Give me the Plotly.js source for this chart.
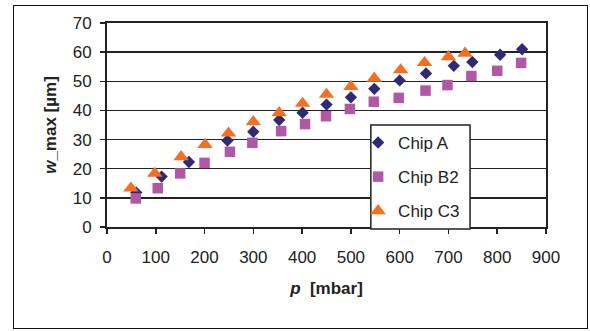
<!DOCTYPE html>
<html><head><meta charset="utf-8">
<script src="https://cdn.plot.ly/plotly-3.0.1.min.js"></script>
<style>body{margin:0;background:#fff}#frame{position:absolute;left:13px;top:5px;width:573px;height:322px;border:1.5px solid #111;pointer-events:none}</style>
</head><body>
<div id="chart" style="width:590px;height:331px"></div>
<div id="frame"></div>
<script>
const chipA_p = [60,112,168,247,300,353,401,450,500,548,600,654,711,749,806,851];
const chipA_w = [11.8,17.3,22.3,29.7,32.7,36.7,39.2,42.0,44.5,47.4,50.3,52.7,55.3,56.6,59.1,61.0];
const chipB2_p = [59,104,150,200,252,298,357,406,449,498,547,598,653,698,747,800,849];
const chipB2_w = [9.8,13.3,18.4,22.0,25.8,28.9,32.9,35.3,38.0,40.5,43.0,44.3,46.8,48.7,51.8,53.6,56.3];
const chipC3_p = [49,98,152,201,249,300,353,401,450,500,548,602,651,700,734];
const chipC3_w = [13.3,18.4,24.1,28.3,32.2,36.1,39.2,42.4,45.5,48.2,51.0,53.9,56.4,58.4,59.6];
const seriesNames = ['Chip A','Chip B2','Chip C3'];
const xTicks = [0,100,200,300,400,500,600,700,800,900];
const yTicks = [0,10,20,30,40,50,60,70];

const font = 'Liberation Sans, Arial, sans-serif';
const traces = [
  {x: chipA_p, y: chipA_w, name: seriesNames[0], legendgroup:'a', mode:'markers', type:'scatter',
   marker:{symbol:'diamond', size:9.5, color:'#2f2a72'}},
  {x: chipB2_p, y: chipB2_w, name: seriesNames[1], legendgroup:'b', mode:'markers', type:'scatter',
   marker:{symbol:'square', size:10.5, color:'#b058a6'}},
  {x: chipC3_p, y: chipC3_w, name: seriesNames[2], legendgroup:'c', mode:'markers', type:'scatter',
   marker:{symbol:'triangle-up', size:13.5, color:'#f36f21'}}
];
const layout = {
  width:590, height:331,
  margin:{l:107, r:44, t:23, b:104},
  paper_bgcolor:'#fff', plot_bgcolor:'#fff',
  font:{family:font, size:17, color:'#222'},
  showlegend:true,
  legend:{x:0.572, y:0.5, xanchor:'left', yanchor:'top', bgcolor:'rgba(0,0,0,0)', borderwidth:0,
          font:{family:font, size:17, color:'#222'}, tracegroupgap:9, traceorder:'grouped'},
  shapes:[{type:'rect', xref:'paper', yref:'paper', x0:0.601, x1:0.827, y0:-0.01, y1:0.5,
           line:{color:'#222', width:1.5}, fillcolor:'#fff', layer:'above'}],
  xaxis:{range:[0,900], tickvals:xTicks, ticktext:xTicks.map(String), showgrid:false, zeroline:false,
         showline:true, linecolor:'#222', linewidth:2, mirror:true, ticks:'outside', ticklen:5, tickwidth:1.5, tickcolor:'#222',
         ticklabelstandoff:9,
         tickfont:{family:font,size:17,color:'#222'},
         title:{text:'<b><i>p</i>  [mbar]</b>', font:{family:font,size:17,color:'#222'}, standoff:16}},
  yaxis:{range:[0,70], tickvals:yTicks, ticktext:yTicks.map(String), showgrid:true, gridcolor:'#222', gridwidth:1.5, zeroline:false,
         showline:true, linecolor:'#222', linewidth:2, mirror:true, ticks:'outside', ticklen:5, tickwidth:1.5, tickcolor:'#222',
         ticklabelstandoff:5,
         tickfont:{family:font,size:17,color:'#222'},
         title:{text:'<b><i>w</i>_max [µm]</b>', font:{family:font,size:17,color:'#222'}, standoff:12}}
};
Plotly.newPlot('chart', traces, layout, {displayModeBar:false, staticPlot:true});
</script>
</body></html>
